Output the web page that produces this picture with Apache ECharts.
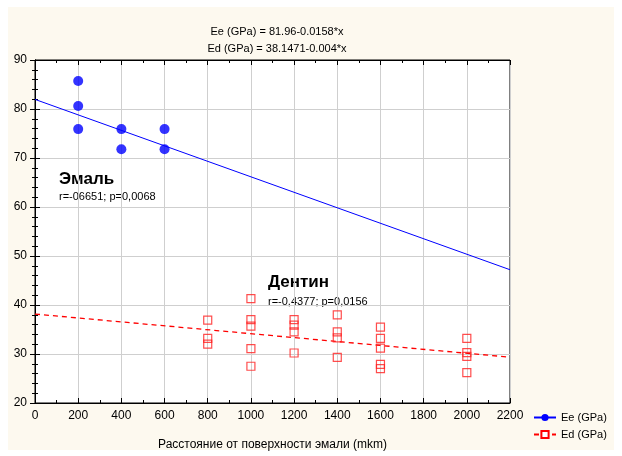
<!DOCTYPE html>
<html><head><meta charset="utf-8">
<script src="https://cdn.jsdelivr.net/npm/echarts@6/dist/echarts.min.js"></script>
<style>
html,body{margin:0;padding:0;background:#fff;}
#bg{position:absolute;left:8px;top:7px;width:606px;height:443px;background:#fdf9ef;}
#chart{position:absolute;left:0;top:0;width:622px;height:456px;}
</style></head><body><div id="bg"></div><div id="chart"></div>
<script>
const titleLines = ['Ee (GPa) = 81.96-0.0158*x', 'Ed (GPa) = 38.1471-0.004*x'];
const xAxisName = 'Расстояние от поверхности эмали (mkm)';
const enamelName = 'Ee (GPa)';
const dentinName = 'Ed (GPa)';
const enamelX = [200, 200, 200, 400, 400, 600, 600];
const enamelY = [85.7, 80.6, 75.9, 75.9, 71.8, 75.9, 71.8];
const dentinX = [800, 800, 800, 1000, 1000, 1000, 1000, 1000, 1200, 1200, 1200, 1200, 1400, 1400, 1400, 1400, 1600, 1600, 1600, 1600, 1600, 2000, 2000, 2000, 2000];
const dentinY = [36.9, 33.2, 32.0, 41.3, 37.0, 35.7, 31.1, 27.5, 37.0, 35.9, 34.5, 30.2, 38.0, 34.5, 33.3, 29.3, 35.5, 33.2, 31.2, 27.9, 27.0, 33.2, 30.3, 29.5, 26.2];
const fitX = [0, 2200];
const enamelFitY = [81.96, 47.20];
const dentinFitY = [38.15, 29.35];
const enamelLabel = 'Эмаль';
const enamelStat = 'r=-06651; p=0,0068';
const dentinLabel = 'Дентин';
const dentinStat = 'r=-0,4377; p=0,0156';

const FONT = '"Liberation Sans", Arial, sans-serif';
const zip = (a, b) => a.map((v, i) => [v, b[i]]);
const plain = v => String(v);

const chart = echarts.init(document.getElementById('chart'), null, {renderer: 'canvas'});

const xBase = {type: 'value', min: 0, max: 2200, interval: 200};
const yBase = {type: 'value', min: 20, max: 90, interval: 10};
const axisLineK = {show: true, lineStyle: {color: '#000', width: 1}};

chart.setOption({
  backgroundColor: 'transparent',
  animation: false,
  title: {
    text: titleLines.join('\n'),
    left: 272, top: 18, textAlign: 'center',
    textStyle: {fontFamily: FONT, fontSize: 11, fontWeight: 'normal', color: '#000', lineHeight: 17}
  },
  grid: {left: 35, right: 112, top: 60, bottom: 46, show: true, backgroundColor: '#fff', borderColor: '#000', borderWidth: 1},
  legend: {
    orient: 'vertical', left: 528, top: 407, itemWidth: 22, itemHeight: 9, itemGap: 6,
    data: [enamelName, dentinName],
    textStyle: {fontFamily: FONT, fontSize: 11, color: '#000'}
  },
  xAxis: [
    Object.assign({}, xBase, {
      position: 'bottom',
      name: xAxisName, nameLocation: 'middle', nameGap: 36,
      nameTextStyle: {fontFamily: FONT, fontSize: 12, color: '#000'},
      axisLine: axisLineK,
      axisTick: {show: true, inside: true, length: 5, lineStyle: {color: '#000'}},
      minorTick: {show: true, splitNumber: 2, length: 3, lineStyle: {color: '#000'}},
      axisLabel: {fontFamily: FONT, fontSize: 12, color: '#000', margin: 7, formatter: plain},
      splitLine: {show: true, lineStyle: {color: '#cfcfcf', width: 1}}
    }),
    Object.assign({}, xBase, {
      position: 'top',
      axisLine: axisLineK,
      axisTick: {show: true, inside: true, length: 5, lineStyle: {color: '#000'}},
      minorTick: {show: true, splitNumber: 2, length: 3, lineStyle: {color: '#000'}},
      axisLabel: {show: false},
      splitLine: {show: false}
    })
  ],
  yAxis: [
    Object.assign({}, yBase, {
      position: 'left',
      axisLine: axisLineK,
      axisTick: {show: true, inside: true, length: 5, lineStyle: {color: '#000'}},
      minorTick: {show: true, splitNumber: 5, length: 3, lineStyle: {color: '#000'}},
      axisLabel: {fontFamily: FONT, fontSize: 12, color: '#000', margin: 8, formatter: plain},
      splitLine: {show: true, lineStyle: {color: '#cfcfcf', width: 1}}
    }),
    Object.assign({}, yBase, {
      position: 'right',
      axisLine: axisLineK,
      axisTick: {show: true, inside: true, length: 5, lineStyle: {color: '#000'}},
      minorTick: {show: true, splitNumber: 5, length: 3, lineStyle: {color: '#000'}},
      axisLabel: {show: false},
      splitLine: {show: false}
    })
  ],
  series: [
    {
      name: enamelName, type: 'line', data: zip(fitX, enamelFitY),
      showSymbol: false, symbol: 'circle', symbolSize: 9,
      itemStyle: {color: '#0000ff'},
      lineStyle: {color: '#0000ff', width: 1}, silent: true, z: 3
    },
    {
      name: dentinName, type: 'line', data: zip(fitX, dentinFitY),
      showSymbol: false, symbol: 'rect', symbolSize: 8,
      itemStyle: {color: '#ffffff', borderColor: '#ff0000', borderWidth: 1},
      lineStyle: {color: '#ff0000', width: 1.3, type: [5, 4]}, silent: true, z: 3
    },
    {
      name: enamelName, type: 'scatter', data: zip(enamelX, enamelY),
      symbol: 'circle', symbolSize: 10,
      itemStyle: {color: '#0000ff'}, z: 4
    },
    {
      name: dentinName, type: 'scatter', data: zip(dentinX, dentinY),
      symbol: 'rect', symbolSize: 8,
      itemStyle: {color: 'rgba(0,0,0,0)', borderColor: '#ff2020', borderWidth: 1.2}, z: 4
    }
  ],
  graphic: [
    {type: 'text', left: 59, top: 171, style: {text: enamelLabel, font: 'bold 17px ' + FONT, fill: '#000'}},
    {type: 'text', left: 59, top: 191, style: {text: enamelStat, font: '11px ' + FONT, fill: '#000'}},
    {type: 'text', left: 268, top: 274, style: {text: dentinLabel, font: 'bold 17px ' + FONT, fill: '#000'}},
    {type: 'text', left: 268, top: 296, style: {text: dentinStat, font: '11px ' + FONT, fill: '#000'}}
  ]
});
</script></body></html>
